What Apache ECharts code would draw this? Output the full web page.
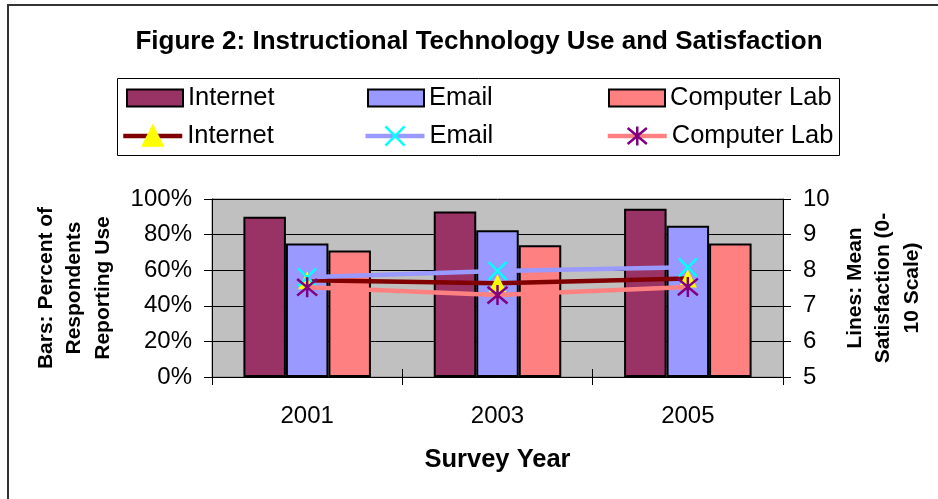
<!DOCTYPE html>
<html>
<head>
<meta charset="utf-8">
<script src="https://cdn.jsdelivr.net/npm/echarts@6/dist/echarts.min.js"></script>
<style>
html,body{margin:0;padding:0;background:#fff;}
#chart{width:938px;height:499px;}
</style>
</head>
<body>
<div id="chart"></div>
<script>
const categories = ['2001', '2003', '2005'];
const barNames = ['Internet', 'Email', 'Computer Lab'];
const usageInternet = [0.90, 0.93, 0.945];
const usageEmail = [0.75, 0.825, 0.85];
const usageLab = [0.71, 0.74, 0.75];
const satInternet = [7.72, 7.63, 7.77];
const satEmail = [7.80, 7.98, 8.08];
const satLab = [7.52, 7.30, 7.53];

const FONT = '"Liberation Sans", Arial, sans-serif';
const lineSuffix = ' satisfaction';

const chart = echarts.init(document.getElementById('chart'), null, {renderer: 'canvas'});

const X_SYM = 'path://M0,0L20,20M20,0L0,20';
const STAR_SYM = 'path://M0,0L20,20M20,0L0,20M10,-2L10,22';

const option = {
  backgroundColor: '#ffffff',
  animation: false,
  title: {
    text: 'Figure 2: Instructional Technology Use and Satisfaction',
    left: 479,
    textAlign: 'center',
    top: 29,
    padding: 0,
    textStyle: {fontFamily: FONT, fontWeight: 'bold', fontSize: 26, color: '#000'}
  },
  graphic: [
    {type: 'rect', z: -10, silent: true, shape: {x: 8, y: 5, width: 1000, height: 600},
     style: {fill: 'none', stroke: '#333', lineWidth: 2}},
    {type: 'rect', z: -5, silent: true, shape: {x: 117.5, y: 78.5, width: 722, height: 77},
     style: {fill: '#fff', stroke: '#000', lineWidth: 1}}
  ],
  legend: [
    {
      data: barNames.map(n => ({name: n, icon: 'rect'})),
      left: 126, top: 83, padding: 0,
      itemWidth: 56, itemHeight: 17, itemGap: 0,
      textStyle: {fontFamily: FONT, fontSize: 25.5, color: '#000', width: 179, lineHeight: 30, overflow: 'none'},
      selectedMode: false
    },
    {
      data: barNames.map(n => n + lineSuffix),
      left: 121, top: 121, padding: 0,
      itemWidth: 59, itemHeight: 24, itemGap: 0,
      formatter: n => n.replace(lineSuffix, ''),
      lineStyle: {width: 4.5},
      itemStyle: {borderWidth: 2.5},
      textStyle: {fontFamily: FONT, fontSize: 25.5, color: '#000', width: 176, lineHeight: 30, overflow: 'none'},
      selectedMode: false
    }
  ],
  grid: {
    left: 212, right: 155, top: 199, bottom: 122,
    show: true, backgroundColor: '#C0C0C0', borderColor: '#808080', borderWidth: 1
  },
  xAxis: [
    {
      type: 'category', data: categories, position: 'bottom',
      axisLine: {lineStyle: {color: '#000', width: 1}},
      axisTick: {show: true, inside: false, length: 8, lineStyle: {color: '#000'}},
      axisLabel: {fontFamily: FONT, fontSize: 24, color: '#000', margin: 27},
      name: 'Survey Year', nameLocation: 'middle', nameGap: 70,
      nameTextStyle: {fontFamily: FONT, fontWeight: 'bold', fontSize: 25.5, color: '#000'}
    },
    {
      type: 'category', data: categories, position: 'bottom',
      axisLine: {show: false},
      axisTick: {show: true, inside: true, length: 8, lineStyle: {color: '#000'}},
      axisLabel: {show: false}, splitLine: {show: false}
    }
  ],
  yAxis: [
    {
      type: 'value', position: 'left', min: 0, max: 1, interval: 0.2,
      axisLine: {show: true, lineStyle: {color: '#000'}},
      axisTick: {show: true, length: 8, lineStyle: {color: '#000'}},
      axisLabel: {fontFamily: FONT, fontSize: 24, color: '#000', margin: 20,
        formatter: v => Math.round(v * 100) + '%'},
      splitLine: {show: true, lineStyle: {color: '#000', width: 1}},
      name: 'Bars: Percent of\nRespondents\nReporting Use', nameLocation: 'middle', nameGap: 95, nameRotate: 90,
      nameTextStyle: {fontFamily: FONT, fontWeight: 'bold', fontSize: 21, lineHeight: 28.5, color: '#000', align: 'center'}
    },
    {
      type: 'value', position: 'right', min: 5, max: 10, interval: 1,
      axisLine: {show: true, lineStyle: {color: '#000'}},
      axisTick: {show: true, length: 8, lineStyle: {color: '#000'}},
      axisLabel: {fontFamily: FONT, fontSize: 24, color: '#000', margin: 20},
      splitLine: {show: false},
      name: 'Lines: Mean\nSatisfaction (0-\n10 Scale)', nameLocation: 'middle', nameGap: 50, nameRotate: 90,
      nameTextStyle: {fontFamily: FONT, fontWeight: 'bold', fontSize: 21, lineHeight: 28.5, color: '#000', align: 'center'}
    },
    {
      type: 'value', position: 'left', min: 0, max: 1, interval: 0.2,
      axisLine: {show: false}, axisLabel: {show: false}, splitLine: {show: false},
      axisTick: {show: true, inside: true, length: 8, lineStyle: {color: '#000'}}
    },
    {
      type: 'value', position: 'right', min: 5, max: 10, interval: 1,
      axisLine: {show: false}, axisLabel: {show: false}, splitLine: {show: false},
      axisTick: {show: true, inside: true, length: 8, lineStyle: {color: '#000'}}
    }
  ],
  series: [
    {name: barNames[0], type: 'bar', data: usageInternet, yAxisIndex: 0, barGap: '0%', barCategoryGap: '33%',
     itemStyle: {color: '#993366', borderColor: '#000', borderWidth: 2}},
    {name: barNames[1], type: 'bar', data: usageEmail, yAxisIndex: 0, barGap: '0%', barCategoryGap: '33%',
     itemStyle: {color: '#9999FF', borderColor: '#000', borderWidth: 2}},
    {name: barNames[2], type: 'bar', data: usageLab, yAxisIndex: 0, barGap: '0%', barCategoryGap: '33%',
     itemStyle: {color: '#FF8080', borderColor: '#000', borderWidth: 2}},
    {name: barNames[0] + lineSuffix, type: 'line', data: satInternet, yAxisIndex: 1, z: 5,
     lineStyle: {color: '#800000', width: 4.5}, symbol: 'triangle', symbolSize: [18, 18],
     itemStyle: {color: '#FFFF00', borderColor: '#FFFF00', borderWidth: 0}},
    {name: barNames[1] + lineSuffix, type: 'line', data: satEmail, yAxisIndex: 1, z: 6,
     lineStyle: {color: '#9999FF', width: 4.5}, symbol: X_SYM, symbolSize: 18,
     itemStyle: {color: '#00FFFF', borderColor: '#00FFFF', borderWidth: 2.5}},
    {name: barNames[2] + lineSuffix, type: 'line', data: satLab, yAxisIndex: 1, z: 7,
     lineStyle: {color: '#FF8080', width: 4.5}, symbol: STAR_SYM, symbolSize: 20,
     itemStyle: {color: '#800080', borderColor: '#800080', borderWidth: 2.5}}
  ]
};
chart.setOption(option);
</script>
</body>
</html>
